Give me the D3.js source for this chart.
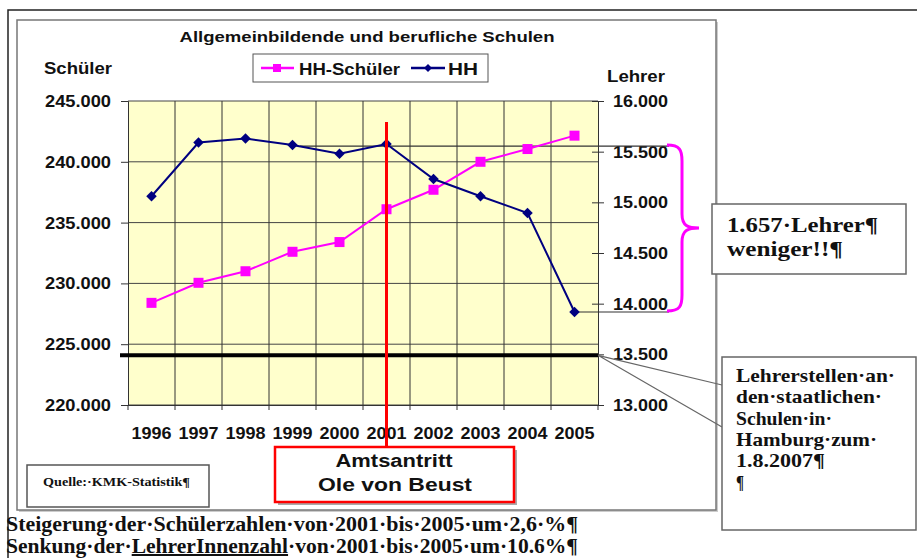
<!DOCTYPE html>
<html>
<head>
<meta charset="utf-8">
<script src="https://cdn.jsdelivr.net/npm/d3@7"></script>
<style>
  body { margin: 0; background: #fff; }
  svg { display: block; }
</style>
</head>
<body>
<svg id="chart" width="917" height="558"></svg>
<script>
// Data
const years = ["1996", "1997", "1998", "1999", "2000", "2001", "2002", "2003", "2004", "2005"];
const schueler = [228400, 230050, 231000, 232600, 233400, 236100, 237700, 240000, 241050, 242150];
const lehrer = [15060, 15590, 15630, 15565, 15480, 15575, 15230, 15060, 14895, 13918];
const schuelerTicks = [220000, 225000, 230000, 235000, 240000, 245000];
const lehrerTicks = [13000, 13500, 14000, 14500, 15000, 15500, 16000];
const lehrer2007 = 13490;
const amtsantritt = "2001";

const sans = "'Liberation Sans', Arial, sans-serif";
const serif = "'Liberation Serif', 'Times New Roman', serif";

const svg = d3.select("#chart");

// German number format: 245.000
const de = d3.formatLocale({ decimal: ",", thousands: ".", grouping: [3], currency: ["", " €"] });
const fmt = de.format(",");

// Plot area
const plot = { left: 128, right: 598, top: 101, bottom: 405 };

const x = d3.scaleBand().domain(years).range([plot.left, plot.right]);
const yL = d3.scaleLinear().domain([220000, 245000]).range([plot.bottom, plot.top]);
const yR = d3.scaleLinear().domain([13000, 16000]).range([plot.bottom, plot.top]);
const cx = d => x(d) + x.bandwidth() / 2;

// Outer page frame
svg.append("path")
    .attr("d", "M8,558 V10 H917")
    .style("fill", "none")
    .style("stroke", "#222")
    .style("stroke-width", 1.5);

// Chart box
svg.append("rect")
    .attr("x", 19).attr("y", 22)
    .attr("width", 699).attr("height", 490)
    .style("fill", "#ccc");
svg.append("rect")
    .attr("x", 17).attr("y", 20)
    .attr("width", 699).attr("height", 490)
    .style("fill", "#fff")
    .style("stroke", "#777")
    .style("stroke-width", 1.5);

// Title
svg.append("text")
    .text("Allgemeinbildende und berufliche Schulen")
    .attr("x", 367).attr("y", 42)
    .attr("text-anchor", "middle")
    .attr("textLength", 375)
    .attr("lengthAdjust", "spacingAndGlyphs")
    .style("font", `bold 15px ${sans}`)
    .style("fill", "#111");

// Axis titles
svg.append("text")
    .text("Schüler")
    .attr("x", 44).attr("y", 74)
    .attr("textLength", 68)
    .attr("lengthAdjust", "spacingAndGlyphs")
    .style("font", `bold 17px ${sans}`)
    .style("fill", "#111");
svg.append("text")
    .text("Lehrer")
    .attr("x", 607).attr("y", 82)
    .attr("textLength", 58)
    .attr("lengthAdjust", "spacingAndGlyphs")
    .style("font", `bold 17px ${sans}`)
    .style("fill", "#111");

// Legend
const legend = svg.append("g").attr("id", "legend");
legend.append("rect")
    .attr("x", 253).attr("y", 54)
    .attr("width", 235).attr("height", 28)
    .style("fill", "#fff")
    .style("stroke", "#555");
legend.append("line")
    .attr("x1", 261).attr("x2", 294).attr("y1", 68).attr("y2", 68)
    .style("stroke", "#ff00ff").style("stroke-width", 2.5);
legend.append("rect")
    .attr("x", 273).attr("y", 64).attr("width", 8).attr("height", 8)
    .style("fill", "#ff00ff");
legend.append("text")
    .text("HH-Schüler")
    .attr("x", 299).attr("y", 75)
    .attr("textLength", 101)
    .attr("lengthAdjust", "spacingAndGlyphs")
    .style("font", `bold 16px ${sans}`)
    .style("fill", "#111");
legend.append("line")
    .attr("x1", 411).attr("x2", 445).attr("y1", 68).attr("y2", 68)
    .style("stroke", "#000080").style("stroke-width", 2.5);
legend.append("path")
    .attr("d", d3.symbol(d3.symbolDiamond2, 40)())
    .attr("transform", "translate(428,68)")
    .style("fill", "#000080");
legend.append("text")
    .text("HH")
    .attr("x", 448).attr("y", 75)
    .attr("textLength", 30)
    .attr("lengthAdjust", "spacingAndGlyphs")
    .style("font", `bold 16px ${sans}`)
    .style("fill", "#111");

// Plot background
svg.append("rect")
    .attr("x", plot.left).attr("y", plot.top)
    .attr("width", plot.right - plot.left)
    .attr("height", plot.bottom - plot.top)
    .style("fill", "#ffffcc");

// Gridlines
const grid = svg.append("g").attr("id", "grid");
grid.selectAll(".hgrid")
    .data(schuelerTicks)
    .enter().append("line")
    .attr("class", "hgrid")
    .attr("x1", plot.left).attr("x2", plot.right)
    .attr("y1", d => yL(d)).attr("y2", d => yL(d))
    .style("stroke", "#444").style("stroke-width", 1);
grid.selectAll(".vgrid")
    .data(years.slice(1))
    .enter().append("line")
    .attr("class", "vgrid")
    .attr("x1", d => x(d)).attr("x2", d => x(d))
    .attr("y1", plot.top).attr("y2", plot.bottom)
    .style("stroke", "#333").style("stroke-width", 1);

// Axes
const axisL = svg.append("g")
    .attr("transform", `translate(${plot.left},0)`)
    .call(d3.axisLeft(yL).tickValues(schuelerTicks).tickFormat(fmt).tickSize(7).tickPadding(10));
const axisR = svg.append("g")
    .attr("transform", `translate(${plot.right},0)`)
    .call(d3.axisRight(yR).tickValues(lehrerTicks).tickFormat(fmt).tickSize(6).tickPadding(9));
axisR.selectAll(".tick line").attr("x1", -6);
const axisB = svg.append("g")
    .attr("transform", `translate(0,${plot.bottom})`)
    .call(d3.axisBottom(x).tickSize(0).tickPadding(22));
// tick marks at category boundaries
svg.append("g").selectAll("line")
    .data(years.map(d => x(d)).concat([plot.right]))
    .enter().append("line")
    .attr("x1", d => d).attr("x2", d => d)
    .attr("y1", plot.bottom).attr("y2", plot.bottom + 5)
    .style("stroke", "#333");

[axisL, axisR, axisB].forEach(a => {
    a.select(".domain").style("stroke", "#333");
    a.selectAll(".tick line").style("stroke", "#333");
    a.selectAll("text")
        .style("font", `bold 17px ${sans}`)
        .style("fill", "#111")
        .attr("lengthAdjust", "spacingAndGlyphs");
});
axisL.selectAll("text").attr("textLength", 66);
axisR.selectAll("text").attr("textLength", 55);
axisB.selectAll("text").attr("textLength", 40);

// Thick black line: teacher positions 2007
svg.append("line")
    .attr("x1", 120).attr("x2", plot.right)
    .attr("y1", yR(lehrer2007)).attr("y2", yR(lehrer2007))
    .style("stroke", "#000").style("stroke-width", 4);

// Reference lines to brace
const i01 = years.indexOf(amtsantritt);
const i05 = years.length - 1;
svg.append("line")
    .attr("x1", 300).attr("x2", 669)
    .attr("y1", yR(lehrer[i01]) + 2).attr("y2", yR(lehrer[i01]) + 2)
    .style("stroke", "#333").style("stroke-width", 1.2);
svg.append("line")
    .attr("x1", cx(years[i05])).attr("x2", 669)
    .attr("y1", yR(lehrer[i05])).attr("y2", yR(lehrer[i05]))
    .style("stroke", "#333").style("stroke-width", 1.2);

// Series
const lineL = d3.line().x((d, i) => cx(years[i])).y(d => yL(d));
const lineR = d3.line().x((d, i) => cx(years[i])).y(d => yR(d));

svg.append("path")
    .datum(schueler)
    .attr("d", lineL)
    .style("fill", "none")
    .style("stroke", "#ff00ff")
    .style("stroke-width", 2);
svg.selectAll(".sq")
    .data(schueler)
    .enter().append("rect")
    .attr("class", "sq")
    .attr("x", (d, i) => cx(years[i]) - 5)
    .attr("y", d => yL(d) - 5)
    .attr("width", 10).attr("height", 10)
    .style("fill", "#ff00ff");

svg.append("path")
    .datum(lehrer)
    .attr("d", lineR)
    .style("fill", "none")
    .style("stroke", "#000080")
    .style("stroke-width", 2);
svg.selectAll(".dia")
    .data(lehrer)
    .enter().append("path")
    .attr("class", "dia")
    .attr("d", d3.symbol(d3.symbolDiamond2, 70)())
    .attr("transform", (d, i) => `translate(${cx(years[i])},${yR(d)})`)
    .style("fill", "#000080");

// Brace
const bTop = yR(lehrer[i01]) + 1, bBot = yR(lehrer[i05]) - 1, bMid = (bTop + bBot) / 2;
svg.append("path")
    .attr("d", `M667,${bTop} C680,${bTop} 682,${bTop + 5} 682,${bTop + 16}
                L682,${bMid - 14} C682,${bMid - 2} 688,${bMid} 699,${bMid}
                C688,${bMid} 682,${bMid + 2} 682,${bMid + 14}
                L682,${bBot - 16} C682,${bBot - 5} 680,${bBot} 667,${bBot}`)
    .style("fill", "none")
    .style("stroke", "#ff00ff")
    .style("stroke-width", 3);

// Red marker line for Amtsantritt
svg.append("line")
    .attr("x1", cx(amtsantritt)).attr("x2", cx(amtsantritt))
    .attr("y1", 122).attr("y2", 447)
    .style("stroke", "#ff0000").style("stroke-width", 3);

// Red box
svg.append("rect")
    .attr("x", 278).attr("y", 450)
    .attr("width", 239).attr("height", 55)
    .style("fill", "#aaa");
svg.append("rect")
    .attr("x", 275).attr("y", 447)
    .attr("width", 239).attr("height", 55)
    .style("fill", "#fff")
    .style("stroke", "#ff0000")
    .style("stroke-width", 2.5);
svg.append("text")
    .text("Amtsantritt")
    .attr("x", 394).attr("y", 467)
    .attr("text-anchor", "middle")
    .attr("textLength", 117)
    .attr("lengthAdjust", "spacingAndGlyphs")
    .style("font", `bold 18px ${sans}`)
    .style("fill", "#111");
svg.append("text")
    .text("Ole von Beust")
    .attr("x", 395).attr("y", 491)
    .attr("text-anchor", "middle")
    .attr("textLength", 154)
    .attr("lengthAdjust", "spacingAndGlyphs")
    .style("font", `bold 18px ${sans}`)
    .style("fill", "#111");

// Source box
svg.append("rect")
    .attr("x", 27).attr("y", 465)
    .attr("width", 182).attr("height", 42)
    .style("fill", "#fff")
    .style("stroke", "#555")
    .style("stroke-width", 1.5);
svg.append("text")
    .text("Quelle:·KMK-Statistik¶")
    .attr("x", 43).attr("y", 486)
    .attr("textLength", 147)
    .attr("lengthAdjust", "spacingAndGlyphs")
    .style("font", `bold 12px ${serif}`)
    .style("fill", "#111");

// Callout lines to the teacher box
const tipY = yR(lehrer2007);
svg.append("path")
    .attr("d", `M${plot.right},${tipY} L722,385 M${plot.right},${tipY} L722,427`)
    .style("fill", "none")
    .style("stroke", "#666")
    .style("stroke-width", 1.2);

// "1.657 Lehrer weniger" box
svg.append("rect")
    .attr("x", 712).attr("y", 204)
    .attr("width", 194).attr("height", 70)
    .style("fill", "#fff")
    .style("stroke", "#666")
    .style("stroke-width", 1.5);
[["1.657·Lehrer¶", 232, 151], ["weniger!!¶", 256, 116]].forEach(([t, yy, len]) => {
    svg.append("text")
        .text(t)
        .attr("x", 727).attr("y", yy)
        .attr("textLength", len)
        .attr("lengthAdjust", "spacingAndGlyphs")
        .style("font", `bold 20px ${serif}`)
        .style("fill", "#111");
});

// "Lehrerstellen" box
svg.append("rect")
    .attr("x", 722).attr("y", 357)
    .attr("width", 194).attr("height", 173)
    .style("fill", "#fff")
    .style("stroke", "#666")
    .style("stroke-width", 1.5);
const boxLines = ["Lehrerstellen·an·", "den·staatlichen·", "Schulen·in·", "Hamburg·zum·", "1.8.2007¶", "¶"];
const boxWidths = [159, 146, 96, 141, 89, 8];
svg.selectAll(".boxline")
    .data(boxLines)
    .enter().append("text")
    .attr("class", "boxline")
    .text(d => d)
    .attr("x", 736)
    .attr("y", (d, i) => 382 + i * 21.3)
    .attr("textLength", (d, i) => boxWidths[i])
    .attr("lengthAdjust", "spacingAndGlyphs")
    .style("font", `bold 19px ${serif}`)
    .style("fill", "#111");

// Bottom notes
svg.append("text")
    .text("Steigerung·der·Schülerzahlen·von·2001·bis·2005·um·2,6·%¶")
    .attr("x", 6).attr("y", 531)
    .attr("textLength", 572)
    .attr("lengthAdjust", "spacingAndGlyphs")
    .style("font", `bold 20px ${serif}`)
    .style("fill", "#111");
const note2 = svg.append("text")
    .attr("x", 6).attr("y", 553)
    .attr("textLength", 572)
    .attr("lengthAdjust", "spacingAndGlyphs")
    .style("font", `bold 20px ${serif}`)
    .style("fill", "#111");
note2.append("tspan").text("Senkung·der·");
note2.append("tspan").text("LehrerInnenzahl").style("text-decoration", "underline");
note2.append("tspan").text("·von·2001·bis·2005·um·10.6%¶");
</script>
</body>
</html>
